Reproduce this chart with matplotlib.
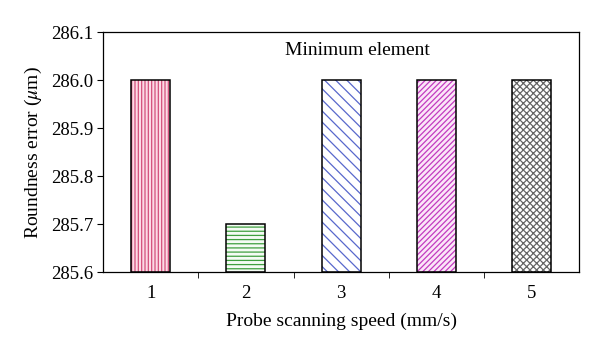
import matplotlib
matplotlib.use("Agg")
import matplotlib.pyplot as plt

# 데이터
speeds = ["1", "2", "3", "4", "5"]
roundness = [286.0, 285.7, 286.0, 286.0, 286.0]
face_colors = ["#fcdbe6", "#f4fbf4", "white", "#fbe6f8", "white"]
hatch_colors = ["#d4507c", "#3f9f3f", "#5868cc", "#c23cc0", "#666666"]
hatches = ["|||||", "----", "\\\\\\", "//////", "xxxxx"]

plt.rcParams["font.family"] = ["Liberation Serif", "DejaVu Serif"]
plt.rcParams["mathtext.fontset"] = "stix"
plt.rcParams["hatch.linewidth"] = 0.9

fig = plt.figure(figsize=(6, 3.53), dpi=100)
ax = fig.add_axes([0.172, 0.229, 0.793, 0.680])

x = list(range(1, len(speeds) + 1))
base = 285.6
heights = [v - base for v in roundness]

# 해치 무늬 (색상) 먼저, 테두리는 검정으로 덧그리기
for xi, h, fc, hc, ht in zip(x, heights, face_colors, hatch_colors, hatches):
    ax.bar(xi, h, bottom=base, width=0.41, color=fc, edgecolor=hc,
           hatch=ht, linewidth=0)
ax.bar(x, heights, bottom=base, width=0.41, fill=False,
       edgecolor="black", linewidth=1.1)

ax.set_xlim(0.5, 5.5)
ax.set_ylim(285.6, 286.1)
ax.set_yticks([285.6, 285.7, 285.8, 285.9, 286.0, 286.1])
ax.set_yticklabels(["285.6", "285.7", "285.8", "285.9", "286.0", "286.1"])
ax.set_xticks(x)
ax.set_xticklabels(speeds)
ax.set_xticks([1.5, 2.5, 3.5, 4.5], minor=True)
ax.tick_params(axis="x", which="major", length=0, labelsize=13.5, pad=9)
ax.tick_params(axis="x", which="minor", length=4, direction="out")
ax.tick_params(axis="y", length=4, direction="out", labelsize=13.5, pad=3)

for s in ax.spines.values():
    s.set_linewidth(0.9)

ax.set_xlabel("Probe scanning speed (mm/s)", fontsize=14, labelpad=8)
ax.set_ylabel(r"Roundness error ($\mu$m)", fontsize=14, labelpad=5)
ax.text(0.534, 0.925, "Minimum element", transform=ax.transAxes,
        ha="center", va="center", fontsize=14)

fig.savefig("out.png", dpi=100)
